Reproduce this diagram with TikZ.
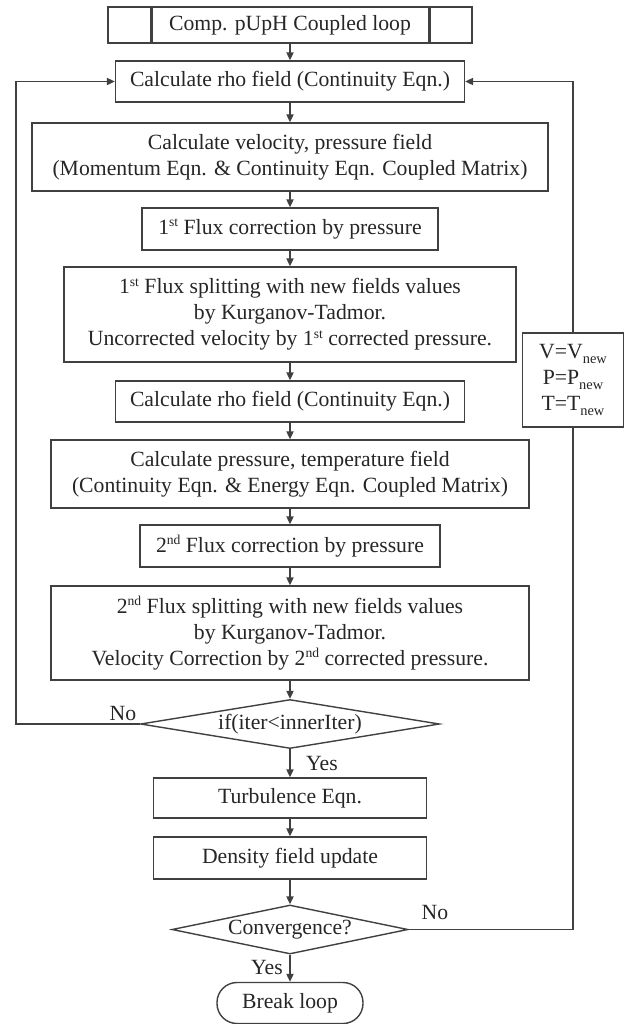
\documentclass[tikz,border=0pt]{standalone}
\usepackage{fontspec}
\setmainfont{Liberation Serif}
\usetikzlibrary{shapes.geometric,arrows.meta}
\newcommand{\mysup}[1]{\raisebox{0.75ex}{\fontsize{6.8}{7}\selectfont #1}}
\newcommand{\mysub}[1]{\raisebox{-0.45ex}{\fontsize{7.2}{7}\selectfont #1}}
\begin{document}
\begin{tikzpicture}[x=0.5pt,y=-0.5pt,
  every node/.style={font=\fontsize{10.85}{13}\selectfont, text=black!85},
  boxn/.style={draw=black!75, line width=0.7pt, rectangle, align=center, inner sep=0pt, fill=white},
  decn/.style={draw=black!75, line width=0.7pt, diamond, inner sep=0pt, align=center},
  termn/.style={draw=black!75, line width=0.7pt, rectangle, rounded corners=10pt, inner sep=0pt},
  lbl/.style={inner sep=0pt},
  conn/.style={draw=black!75, line width=0.7pt},
  arr/.style={conn, -{Triangle[length=4pt,width=3.6pt]}}
]
\useasboundingbox (0,0) rectangle (625,1024);

\node[boxn, line width=1.3pt, minimum width=182pt, minimum height=18pt] (top) at (290,25) {Comp. pUpH Coupled loop};
\draw[black!75, line width=1.3pt] (top.north west) ++(45,0) -- ++(0,36);
\draw[black!75, line width=1.3pt] (top.north east) ++(-44,0) -- ++(0,36);

\node[boxn, minimum width=174.5pt, minimum height=20.5pt] (r1) at (290,81.5) {Calculate rho field (Continuity Eqn.)};
\node[boxn, minimum width=258pt, minimum height=34pt] (vp) at (290,157) {Calculate velocity, pressure field\\(Momentum Eqn. \& Continuity Eqn. Coupled Matrix)};
\node[boxn, minimum width=148pt, minimum height=21pt] (fc1) at (290,229) {1\mysup{st} Flux correction by pressure};
\node[boxn, minimum width=226pt, minimum height=47.5pt] (fs1) at (290,314.5) {1\mysup{st} Flux splitting with new fields values\\by Kurganov-Tadmor.\\Uncorrected velocity by 1\mysup{st} corrected pressure.};
\node[boxn, minimum width=174.5pt, minimum height=20.5pt] (r2) at (290,401.5) {Calculate rho field (Continuity Eqn.)};
\node[boxn, minimum width=239pt, minimum height=34pt] (pt) at (290,474) {Calculate pressure, temperature field\\(Continuity Eqn. \& Energy Eqn. Coupled Matrix)};
\node[boxn, minimum width=150pt, minimum height=21pt] (fc2) at (290,546) {2\mysup{nd} Flux correction by pressure};
\node[boxn, minimum width=239pt, minimum height=47pt] (fs2) at (290,633) {2\mysup{nd} Flux splitting with new fields values\\by Kurganov-Tadmor.\\Velocity Correction by 2\mysup{nd} corrected pressure.};
\node[decn, minimum width=149.5pt, minimum height=24.5pt, aspect=6.1] (d1) at (290,724) {if(iter<innerIter)};
\node[boxn, minimum width=136.5pt, minimum height=20pt] (turb) at (290,798) {Turbulence Eqn.};
\node[boxn, minimum width=136.5pt, minimum height=21pt] (dens) at (290,858) {Density field update};
\node[decn, minimum width=118pt, minimum height=24.5pt, aspect=4.8] (d2) at (290,929.5) {Convergence?};
\node[termn, minimum width=73pt, minimum height=20.5pt] (brk) at (290,1003) {Break loop};
\node[boxn, minimum width=50.5pt, minimum height=47pt] (vb) at (573,380) {V=V\mysub{new}\\P=P\mysub{new}\\T=T\mysub{new}};

\draw[arr] (top) -- (r1);
\draw[arr] (r1) -- (vp);
\draw[arr] (vp) -- (fc1);
\draw[arr] (fc1) -- (fs1);
\draw[arr] (fs1) -- (r2);
\draw[arr] (r2) -- (pt);
\draw[arr] (pt) -- (fc2);
\draw[arr] (fc2) -- (fs2);
\draw[arr] (fs2) -- (d1);
\draw[arr] (d1) -- (turb);
\draw[arr] (turb) -- (dens);
\draw[arr] (dens) -- (d2);
\draw[arr] (d2) -- (brk);

\coordinate (lb) at (16,724);
\draw[arr] (d1.west) -- (lb) |- (r1.west);
\coordinate (rb) at (573,929.5);
\draw[conn] (d2.east) -- (rb) -- (vb.south);
\draw[arr] (vb.north) |- (r1.east);

\node[lbl] (no1) at (123,713) {No};
\node[lbl] (yes1) at (322,763) {Yes};
\node[lbl] (no2) at (435,912) {No};
\node[lbl] (yes2) at (267,967) {Yes};
\end{tikzpicture}
\end{document}
